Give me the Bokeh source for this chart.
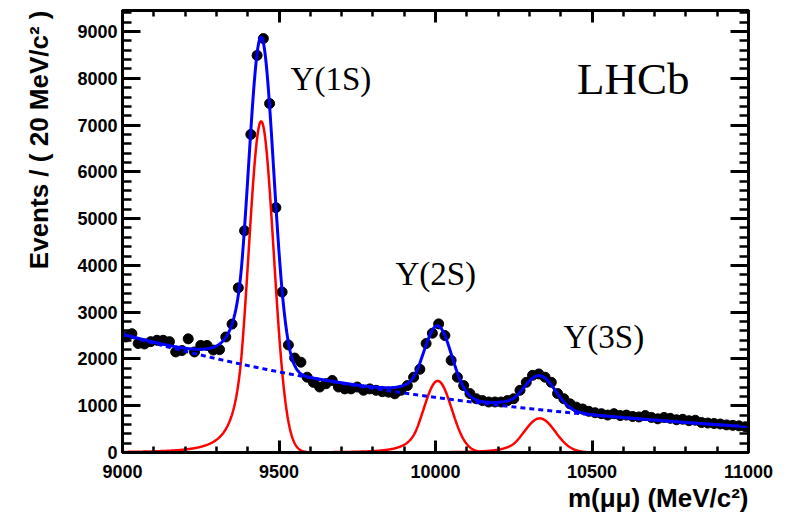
import numpy as np
from bokeh.plotting import figure
from bokeh.models import (Range1d, LinearAxis, SingleIntervalTicker, Label, Title,
                          ColumnDataSource, CustomLabelingPolicy)
from bokeh.embed import file_html
from bokeh.resources import INLINE

# Dimuon mass spectrum, 20 MeV/c^2 bins from 9000 to 11000 MeV/c^2
bin_width = 20
bin_centers = np.arange(9010, 11000, bin_width)
counts = [
    2470, 2540, 2330, 2320, 2370, 2400, 2400, 2370, 2150, 2180,
    2430, 2150, 2290, 2290, 2190, 2200, 2470, 2745, 3520, 4740,
    6800, 8490, 8850, 7460, 5235, 3430, 2300, 2020,
    1930, 1610, 1500, 1400, 1470, 1540, 1400, 1360, 1360, 1400,
    1330, 1360, 1330, 1300, 1290, 1255, 1330, 1430, 1610, 1780,
    2330, 2550,
    2750, 2500, 1970, 1610, 1430, 1260, 1150, 1110, 1080, 1080,
    1080, 1110, 1150, 1330, 1500, 1650, 1680, 1610, 1500, 1260,
    1150, 1040, 970, 930,
    880, 850, 830, 800, 830, 790, 800, 770, 760, 790,
    750, 720, 750, 730, 700, 710, 680, 690, 640, 630,
    620, 610, 590, 580, 570, 550,
]

# Fit model: three Crystal Ball signal peaks on an exponential background
peak_names = ["Υ(1S)", "Υ(2S)", "Υ(3S)"]
peak_mass = [9443, 10007, 10333]
peak_sigma = [40, 45, 50]
peak_height = [7080, 1530, 730]
cb_alpha = 1.5
cb_n = 3.0
bkg_norm = 2520.0        # background at 9000 MeV/c^2
bkg_slope = -0.00076     # per MeV/c^2

x_ticks_major = 500
y_ticks_major = 1000


def crystal_ball(m, mean, sigma, alpha, n):
    t = (m - mean) / sigma
    a = (n / alpha) ** n * np.exp(-0.5 * alpha ** 2)
    b = n / alpha - alpha
    tail = a * np.power(np.maximum(b - t, 1e-6), -n)
    return np.where(t > -alpha, np.exp(-0.5 * t ** 2), tail)


m = np.linspace(9000, 11000, 1601)
background = bkg_norm * np.exp(bkg_slope * (m - 9000))
signals = [h * crystal_ball(m, mu, s, cb_alpha, cb_n)
           for mu, s, h in zip(peak_mass, peak_sigma, peak_height)]
total = background + sum(signals)

counts_arr = np.array(counts, dtype=float)
err = np.sqrt(counts_arr)
data = ColumnDataSource(dict(x=bin_centers, y=counts_arr,
                             lo=counts_arr - err, hi=counts_arr + err))

p = figure(width=791, height=514, output_backend="svg", toolbar_location=None,
           x_range=Range1d(9000, 11000), y_range=Range1d(0, 9450),
           x_axis_location=None, y_axis_location=None,
           min_border_left=122, min_border_right=43,
           min_border_top=10, min_border_bottom=62)
p.grid.visible = False
p.outline_line_color = "black"
p.outline_line_width = 3
p.background_fill_color = "white"
p.border_fill_color = "white"

label_font = "Liberation Sans"
hide_all_labels = CustomLabelingPolicy(
    code="for (const i of indices) { indices.unset(i) } return indices")


def style_axis(ax, major_in, minor_in, labels):
    ax.axis_line_width = 3
    ax.axis_line_color = "black"
    ax.major_tick_line_width = 3
    ax.minor_tick_line_width = 2.5
    ax.major_tick_in = major_in
    ax.major_tick_out = 0
    ax.minor_tick_in = minor_in
    ax.minor_tick_out = 0
    if labels:
        ax.major_label_text_font = label_font
        ax.major_label_text_font_style = "bold"
        ax.major_label_text_font_size = "18px"
        ax.major_label_text_color = "black"
    else:
        ax.major_label_policy = hide_all_labels
        ax.major_label_text_font_size = "1px"
        ax.major_label_standoff = 0


xt = dict(interval=x_ticks_major, num_minor_ticks=5)
yt = dict(interval=y_ticks_major, num_minor_ticks=5)

bottom = LinearAxis(ticker=SingleIntervalTicker(**xt))
style_axis(bottom, 12, 6, True)
bottom.major_label_standoff = 12
top = LinearAxis(ticker=SingleIntervalTicker(**xt))
style_axis(top, 12, 6, False)
left = LinearAxis(ticker=SingleIntervalTicker(**yt))
style_axis(left, 18, 9, True)
left.major_label_standoff = 5
right = LinearAxis(ticker=SingleIntervalTicker(**yt))
style_axis(right, 18, 9, False)

p.add_layout(bottom, "below")
p.add_layout(top, "above")
p.add_layout(left, "left")
p.add_layout(right, "right")

# axis titles, aligned to the far end of each axis
p.add_layout(Title(text="Events / ( 20 MeV/c² )", align="right", standoff=42,
                   text_font=label_font, text_font_style="bold",
                   text_font_size="26px", text_color="black"), "left")
p.add_layout(Title(text="m(μμ) (MeV/c²)", align="right", standoff=0,
                   text_font=label_font, text_font_style="bold",
                   text_font_size="26px", text_color="black"), "below")

# data points with statistical error bars
p.segment(x0="x", y0="lo", x1="x", y1="hi", source=data, line_color="black", line_width=2)
p.scatter(x="x", y="y", source=data, size=10, fill_color="black", line_color="black")

# fit components
for sig in signals:
    p.line(m, sig, line_color="red", line_width=2.5)
p.line(m, background, line_color="blue", line_width=3, line_dash="5 4")
p.line(m, total, line_color="blue", line_width=3)

serif = "Liberation Serif"
name_pos = [(9537, 7995), (9872, 3826), (10409, 2480)]
for name, (lx, ly) in zip(peak_names, name_pos):
    p.add_layout(Label(x=lx, y=ly, text=name, text_font=serif, text_font_size="33px",
                       text_color="black", text_baseline="alphabetic", text_align="left"))
p.add_layout(Label(x=10452, y=7995, text="LHCb", text_font=serif, text_font_size="45px",
                   text_color="black", text_baseline="alphabetic", text_align="left"))

open("out.html", "w").write(file_html(p, INLINE))
